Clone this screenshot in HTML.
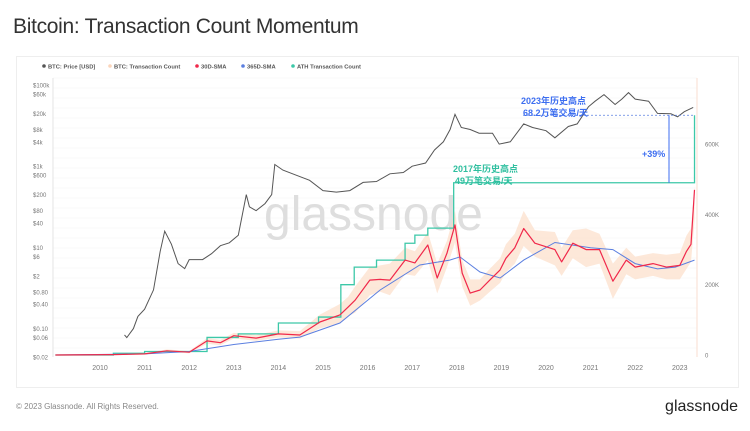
<!DOCTYPE html>
<html><head><meta charset="utf-8">
<style>
body{margin:0;width:750px;height:431px;background:#fff;font-family:"Liberation Sans","Noto Sans CJK SC",sans-serif;overflow:hidden;position:relative}
.title{position:absolute;left:13px;top:15px;font-size:21px;color:#333;letter-spacing:-0.3px}
.card{position:absolute;left:16px;top:56px;width:721px;height:330px;border:1px solid #eee;background:#fff}
.foot{position:absolute;left:16px;top:402px;font-size:8px;color:#888}
.logo{position:absolute;right:12px;top:398px;font-size:16px;color:#222}
</style></head><body>
<div class="title">Bitcoin: Transaction Count Momentum</div>
<div class="card"></div>
<svg id="chart" width="750" height="431" style="position:absolute;left:0;top:0"></svg>
<div class="foot">© 2023 Glassnode. All Rights Reserved.</div>
<div class="logo">glassnode</div>
<script>
const years=[2010,2011,2012,2013,2014,2015,2016,2017,2018,2019,2020,2021,2022,2023];
const priceTicks=[100000,60000,20000,8000,4000,1000,600,200,80,40,10,6,2,0.8,0.4,0.1,0.06,0.02];
const priceTickLabels=["$100k","$60k","$20k","$8k","$4k","$1k","$600","$200","$80","$40","$10","$6","$2","$0.80","$0.40","$0.10","$0.06","$0.02"];
const txTicks=[0,200000,400000,600000];
const txTickLabels=["0","200K","400K","600K"];
const priceT=[2010.55,2010.6,2010.75,2010.85,2011.0,2011.2,2011.35,2011.45,2011.6,2011.75,2011.9,2012.0,2012.3,2012.5,2012.7,2012.9,2013.1,2013.28,2013.35,2013.5,2013.7,2013.85,2013.92,2014.1,2014.4,2014.7,2015.0,2015.3,2015.6,2015.9,2016.2,2016.5,2016.8,2017.0,2017.3,2017.5,2017.7,2017.85,2017.96,2018.1,2018.3,2018.5,2018.8,2018.95,2019.2,2019.5,2019.7,2020.0,2020.2,2020.5,2020.7,2020.95,2021.1,2021.3,2021.55,2021.7,2021.85,2022.0,2022.3,2022.5,2022.8,2022.95,2023.1,2023.3];
const priceV=[0.07,0.06,0.1,0.2,0.3,0.9,8,25,12,4,3,5,5,7,11,13,20,200,100,80,120,200,1100,800,600,450,250,230,250,400,420,650,700,1000,1200,2500,4000,8000,19000,9000,8000,6500,6500,3500,4000,11000,9000,7500,5000,9500,11000,29000,40000,58000,33000,45000,65000,45000,40000,20000,19500,16500,22000,28000];
const txT=[2009.0,2010.3,2011.0,2011.5,2012.0,2012.4,2012.7,2013.0,2013.5,2014.0,2014.48,2014.93,2015.38,2015.56,2015.72,2016.05,2016.28,2016.5,2016.84,2017.06,2017.35,2017.56,2017.78,2017.96,2018.12,2018.3,2018.52,2018.74,2018.97,2019.1,2019.3,2019.5,2019.75,2020.2,2020.35,2020.6,2020.9,2021.2,2021.5,2021.8,2022.0,2022.4,2022.7,2023.0,2023.15,2023.25,2023.33];
const tx30=[0,1000,3000,12000,8000,40000,35000,55000,48000,60000,57000,94000,114000,136000,156000,213000,215000,213000,270000,262000,313000,219000,290000,370000,233000,176000,185000,213000,242000,275000,305000,360000,318000,300000,265000,318000,300000,300000,210000,270000,250000,260000,250000,255000,295000,315000,470000];
const txHigh=[0,2000,5000,16000,11000,48000,43000,63000,57000,70000,68000,115000,145000,165000,195000,250000,255000,260000,305000,295000,350000,260000,325000,410000,270000,215000,215000,245000,275000,315000,345000,410000,355000,350000,305000,355000,360000,345000,260000,305000,280000,290000,285000,290000,340000,360000,480000];
const txLow=[0,0,1000,8000,5000,32000,28000,47000,40000,50000,47000,76000,90000,110000,120000,170000,180000,170000,230000,225000,270000,175000,250000,320000,195000,140000,155000,180000,205000,235000,260000,310000,280000,255000,225000,275000,250000,260000,160000,230000,215000,225000,215000,215000,245000,265000,380000];
const sma365T=[2009.0,2011.0,2012.0,2013.0,2014.0,2014.48,2015.38,2016.28,2017.17,2017.84,2018.07,2018.52,2018.97,2019.5,2020.2,2021.0,2021.5,2022.0,2022.5,2022.9,2023.33];
const sma365V=[0,3000,10000,30000,45000,51000,91000,185000,256000,270000,279000,236000,219000,270000,320000,305000,300000,260000,245000,250000,270000];
const athT=[2009.0,2010.3,2011.0,2012.4,2013.1,2014.0,2014.9,2015.4,2015.7,2016.2,2016.84,2017.06,2017.35,2017.93,2023.33];
const athV=[0,5000,10000,50000,60000,91000,108000,200000,250000,270000,318000,341000,361000,490000,682000];

const svg=document.getElementById('chart');
const NS='http://www.w3.org/2000/svg';
const X0=53,X1=697,Y0=357,YT=78;
const xS=t=>100+(t-2010)*44.6;
const yP=v=>85+(5-Math.log10(v))*40.6;
const yT=v=>355-v/200000*70.3;
function mk(tag,attrs){const e=document.createElementNS(NS,tag);for(const k in attrs)e.setAttribute(k,attrs[k]);svg.appendChild(e);return e;}
function txt(s,x,y,attrs){const e=mk('text',Object.assign({x:x,y:y},attrs));e.textContent=s;return e;}

for(let i=0;i<28;i++){const g=mk('line',{x1:X0,x2:X1,y1:YT+i*10,y2:YT+i*10,stroke:'#f3f3f3','stroke-width':0.6});

}
const ax=mk('line',{x1:X0,x2:X0,y1:YT,y2:Y0,stroke:'#ddd','stroke-width':0.8});


const rax=mk('line',{x1:X1,x2:X1,y1:YT,y2:Y0,stroke:'#f9d6c4','stroke-width':0.8});



const wm=txt('glassnode',264,230,{'font-size':48,fill:'#dedede','font-family':'Liberation Sans,sans-serif'});



years.forEach(y=>{const t=txt(String(y),xS(y),370,{'font-size':7,fill:'#777','text-anchor':'middle'});

});
priceTicks.forEach((v,i)=>{const t=txt(priceTickLabels[i],33,yP(v)+2.5,{'font-size':6,fill:'#777'});

});
txTicks.forEach((v,i)=>{const t=txt(txTickLabels[i],705,yT(v)+2.5,{'font-size':6,fill:'#777'});

});

function pts(T,V,yf){return T.map((t,i)=>xS(t).toFixed(1)+','+yf(V[i]).toFixed(1)).join(' ');}
function stepPts(T,V){let p=[];T.forEach((t,i)=>{if(i>0)p.push(xS(t)+','+yT(V[i-1]));p.push(xS(t)+','+yT(V[i]));});return p.join(' ');}

const bandPts=pts(txT,txHigh,yT)+' '+txT.map((t,i)=>xS(t).toFixed(1)+','+yT(txLow[i]).toFixed(1)).reverse().join(' ');
const band=mk('polygon',{points:bandPts,fill:'#fcd9bf',opacity:0.6});


const ath=mk('polyline',{points:stepPts(athT,athV),fill:'none',stroke:'#3cc8a8','stroke-width':1.3});


const s365=mk('polyline',{points:pts(sma365T,sma365V,yT),fill:'none',stroke:'#5b7fe0','stroke-width':1});


const s30=mk('polyline',{points:pts(txT,tx30,yT),fill:'none',stroke:'#f0284a','stroke-width':1.2,'stroke-linejoin':'round'});


const pr=mk('polyline',{points:pts(priceT,priceV,yP),fill:'none',stroke:'#555','stroke-width':1});



const athHi=682000,ath17=490000;
const dl=mk('line',{x1:523,x2:xS(2023.33),y1:yT(athHi),y2:yT(athHi),stroke:'#5b7fe0','stroke-width':0.8,'stroke-dasharray':'2,2'});


const vl=mk('line',{x1:669,x2:669,y1:yT(athHi),y2:yT(ath17),stroke:'#3d6ef0','stroke-width':1});


const a1=txt('2023年历史高点',521,104,{'font-size':9,fill:'#3d6ef0','font-weight':'bold'});


const a2=txt('68.2万笔交易/天',523,116,{'font-size':9,fill:'#3d6ef0','font-weight':'bold'});


const a3=txt('+39%',642,157,{'font-size':9,fill:'#3d6ef0','font-weight':'bold'});


const a4=txt('2017年历史高点',453,172,{'font-size':9,fill:'#2fbf9f','font-weight':'bold'});


const a5=txt('49万笔交易/天',455,184,{'font-size':9,fill:'#2fbf9f','font-weight':'bold'});



const leg=[['BTC: Price [USD]','#555',44],['BTC: Transaction Count','#fbd5bb',110],['30D-SMA','#f0284a',197],['365D-SMA','#5b7fe0',243],['ATH Transaction Count','#3cc8a8',293]];
leg.forEach(l=>{const c=mk('circle',{cx:l[2],cy:66,r:1.8,fill:l[1]});


const t=txt(l[0],l[2]+4,68.3,{'font-size':5.8,fill:'#555','font-weight':'bold'});

});
</script>
</body></html>
